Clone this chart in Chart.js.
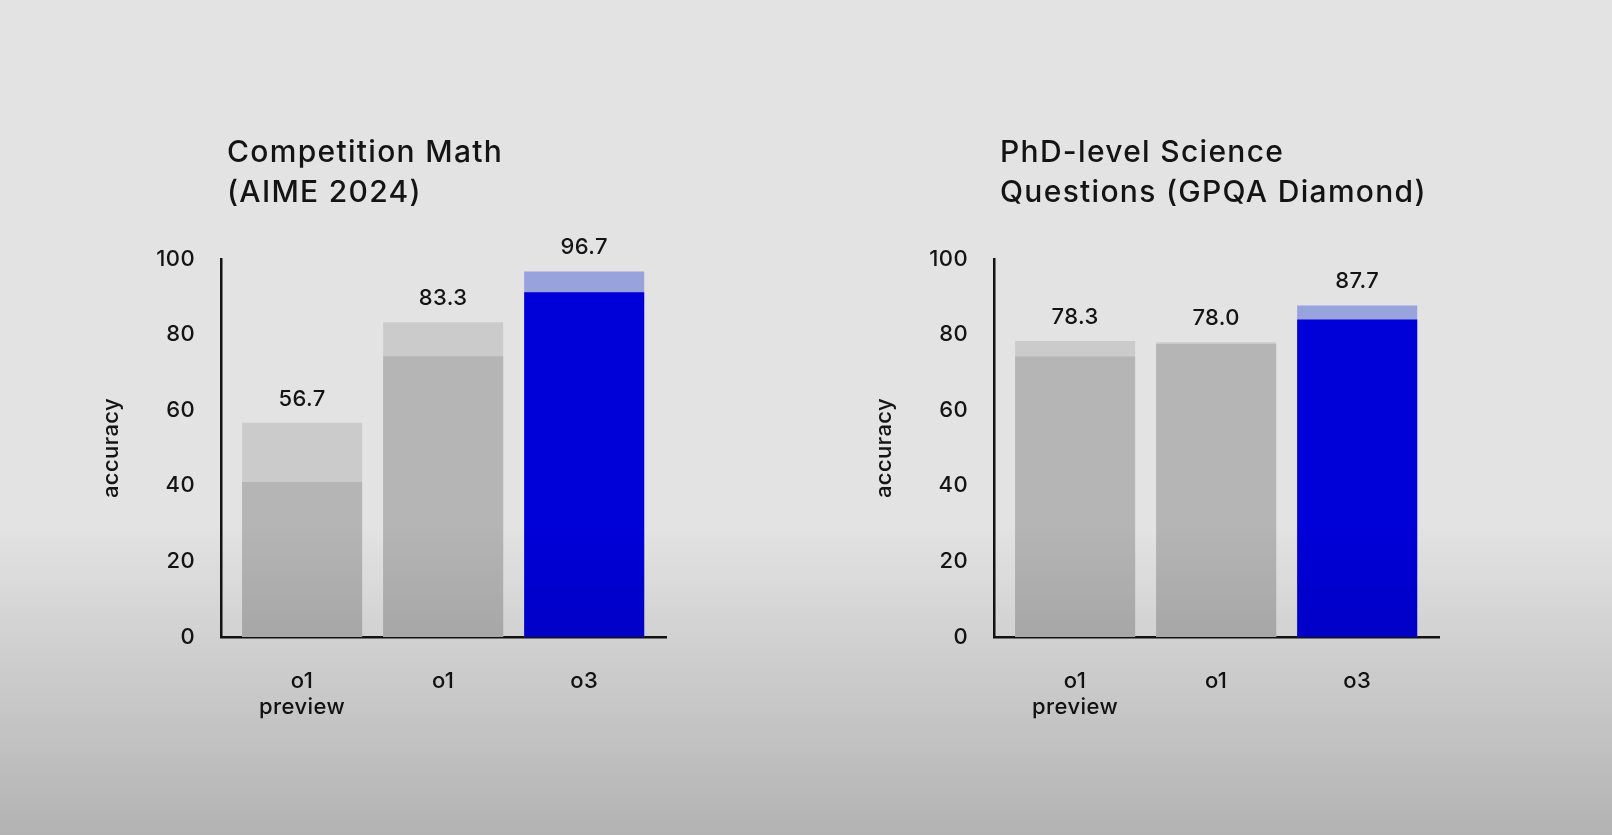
<!DOCTYPE html>
<html>
<head>
<meta charset="utf-8">
<script src="https://cdn.jsdelivr.net/npm/chart.js@4.4.1/dist/chart.umd.min.js"></script>
<style>
  html, body { margin: 0; padding: 0; width: 1612px; height: 835px; overflow: hidden; background: #e3e3e3; }
  canvas { position: absolute; top: 0; }
  #c1 { left: 0; }
  #c2 { left: 773px; }
  #shade {
    position: absolute; left: 0; top: 0; width: 1612px; height: 835px; pointer-events: none;
    background: linear-gradient(to bottom, rgba(0,0,0,0) 0%, rgba(0,0,0,0) 63%, rgba(0,0,0,0.21) 100%);
  }
</style>
</head>
<body>
<canvas id="c1" width="806" height="835"></canvas>
<canvas id="c2" width="806" height="835"></canvas>
<div id="shade"></div>
<script>
const models = [['o1', 'preview'], 'o1', 'o3'];
const yTicks = [0, 20, 40, 60, 80, 100];

const aimeTitle = ['Competition Math', '(AIME 2024)'];
const aimeTotal = [56.7, 83.3, 96.7];
const aimeBase = [41.0, 74.3, 91.2];

const gpqaTitle = ['PhD-level Science', 'Questions (GPQA Diamond)'];
const gpqaTotal = [78.3, 78.0, 87.7];
const gpqaBase = [74.2, 77.5, 84.0];

const lightColors = ['#cbcbcb', '#cbcbcb', '#98a2dd'];
const darkColors = ['#b5b5b5', '#b5b5b5', '#0000d8'];

const ink = '#141414';
const font = 'Inter, "Noto Sans", sans-serif';

// a little extra tracking, the original face runs wider than Inter
const tracking = {
  id: 'tracking',
  beforeDraw(chart) { chart.ctx.letterSpacing = '0.4px'; }
};

// two-line panel title, left-aligned just inside the y axis
const panelTitle = {
  id: 'panelTitle',
  afterDraw(chart, args, opts) {
    const ctx = chart.ctx;
    ctx.save();
    ctx.letterSpacing = '1.3px';
    ctx.fillStyle = ink;
    ctx.font = '500 30px ' + font;
    ctx.textAlign = 'left';
    ctx.textBaseline = 'alphabetic';
    opts.lines.forEach((line, i) => {
      ctx.fillText(line, chart.chartArea.left + 6, 162 + i * 39.5);
    });
    ctx.restore();
  }
};

// numbers above the taller (light) bar
const valueLabels = {
  id: 'valueLabels',
  afterDatasetsDraw(chart) {
    const meta = chart.getDatasetMeta(1);
    const ctx = chart.ctx;
    ctx.save();
    ctx.fillStyle = ink;
    ctx.font = '500 22px ' + font;
    ctx.textAlign = 'center';
    ctx.textBaseline = 'alphabetic';
    meta.data.forEach((bar, i) => {
      const v = chart.data.datasets[1].data[i].y;
      ctx.fillText(v.toFixed(1), bar.x, bar.y - 17);
    });
    ctx.restore();
  }
};

function makeChart(id, title, total, base) {
  new Chart(document.getElementById(id), {
    type: 'bar',
    data: {
      datasets: [
        {
          data: base.map((v, i) => ({ x: i, y: v })),
          backgroundColor: darkColors,
          grouped: false,
          barPercentage: 0.851,
          categoryPercentage: 1
        },
        {
          data: total.map((v, i) => ({ x: i, y: v })),
          backgroundColor: lightColors,
          grouped: false,
          barPercentage: 0.851,
          categoryPercentage: 1
        }
      ]
    },
    options: {
      responsive: false,
      animation: false,
      layout: { padding: { top: 259, right: 140, left: 0, bottom: 0 } },
      plugins: {
        legend: { display: false },
        tooltip: { enabled: false },
        title: { display: false },
        panelTitle: { lines: title }
      },
      scales: {
        x: {
          type: 'linear',
          offset: false,
          min: -0.575,
          max: 2.58,
          grid: { display: false },
          border: { display: true, color: ink, width: 2.5 },
          afterBuildTicks: s => { s.ticks = models.map((_, i) => ({ value: i })); },
          afterFit: s => { s.height = 198; },
          ticks: {
            color: ink,
            padding: 24,
            font: { family: font, size: 22, weight: '500', lineHeight: 1.15 },
            callback: v => models[v]
          }
        },
        y: {
          min: 0,
          max: 100,
          grid: { display: false },
          border: { display: true, color: ink, width: 2.5 },
          afterBuildTicks: s => { s.ticks = yTicks.map(v => ({ value: v })); },
          afterFit: s => { s.width = 221; },
          ticks: {
            color: ink,
            padding: 18,
            font: { family: font, size: 22, weight: '500' }
          },
          title: {
            display: true,
            text: 'accuracy',
            color: ink,
            font: { family: font, size: 22, weight: '500', lineHeight: 1.2 },
            padding: { top: 98, bottom: 0 }
          }
        }
      }
    },
    plugins: [tracking, valueLabels, panelTitle]
  });
}

makeChart('c1', aimeTitle, aimeTotal, aimeBase);
makeChart('c2', gpqaTitle, gpqaTotal, gpqaBase);
</script>
</body>
</html>
